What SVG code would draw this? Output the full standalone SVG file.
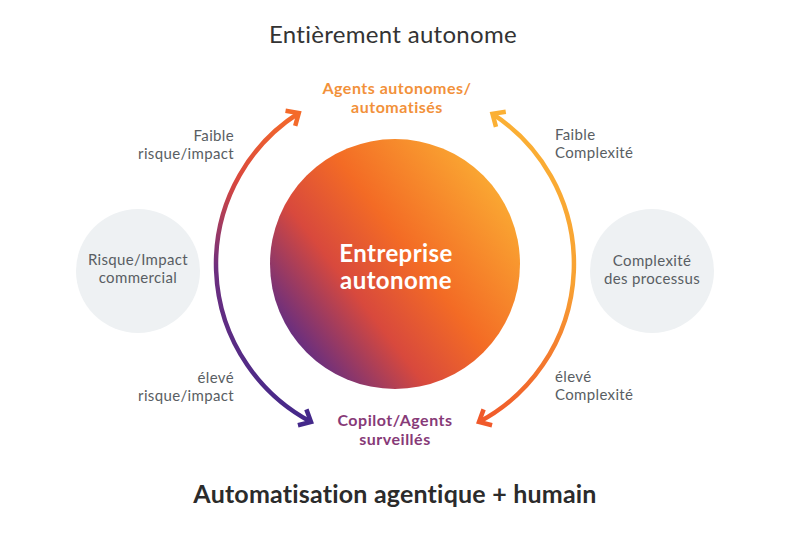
<svg xmlns="http://www.w3.org/2000/svg" width="786" height="539" viewBox="0 0 786 539">
<style>
text{font-family:Lato,"Noto Sans","Liberation Sans",sans-serif}
.side{font-size:15px;fill:#595e63;letter-spacing:0.35px}
.title{font-size:24px;fill:#333333;letter-spacing:0.3px}
.big{font-size:25px;font-weight:bold;fill:#2b2b2b;letter-spacing:0.2px}
.orange{font-size:16px;font-weight:bold;fill:#f2913a;letter-spacing:0.5px}
.purple{font-size:16px;font-weight:bold;fill:#873a78;letter-spacing:0.5px}
.center{font-size:24px;font-weight:bold;fill:#ffffff;letter-spacing:0.4px}
.grey{fill:#eef1f3}
.arc{fill:none;stroke-width:4.5}
</style>
<defs>
<linearGradient id="gBig" x1="0.08" y1="0.82" x2="0.95" y2="0.15">
<stop offset="0" stop-color="#5f2c85"/>
<stop offset="0.3" stop-color="#d8493d"/>
<stop offset="0.55" stop-color="#f36b25"/>
<stop offset="1" stop-color="#fbb034"/>
</linearGradient>
<linearGradient id="gLeft" gradientUnits="userSpaceOnUse" x1="0" y1="113" x2="0" y2="422">
<stop offset="0" stop-color="#f46a2a"/>
<stop offset="0.22" stop-color="#d9473e"/>
<stop offset="0.5" stop-color="#6e2f7f"/>
<stop offset="1" stop-color="#44288a"/>
</linearGradient>
<linearGradient id="gRight" gradientUnits="userSpaceOnUse" x1="0" y1="113" x2="0" y2="422">
<stop offset="0" stop-color="#fbb034"/>
<stop offset="0.55" stop-color="#f8a233"/>
<stop offset="1" stop-color="#f0592a"/>
</linearGradient>
<marker id="mLT" markerUnits="userSpaceOnUse" markerWidth="30" markerHeight="30" refX="0" refY="0" orient="auto" style="overflow:visible">
<path d="M -10 -9 L 0 0 L -10 9" fill="none" stroke="#f46a2a" stroke-width="4.5"/>
</marker>
<marker id="mLB" markerUnits="userSpaceOnUse" markerWidth="30" markerHeight="30" refX="0" refY="0" orient="auto-start-reverse" style="overflow:visible">
<path d="M -10 -9 L 0 0 L -10 9" fill="none" stroke="#44288a" stroke-width="4.5"/>
</marker>
<marker id="mRT" markerUnits="userSpaceOnUse" markerWidth="30" markerHeight="30" refX="0" refY="0" orient="auto-start-reverse" style="overflow:visible">
<path d="M -10 -9 L 0 0 L -10 9" fill="none" stroke="#fbb034" stroke-width="4.5"/>
</marker>
<marker id="mRB" markerUnits="userSpaceOnUse" markerWidth="30" markerHeight="30" refX="0" refY="0" orient="auto" style="overflow:visible">
<path d="M -10 -9 L 0 0 L -10 9" fill="none" stroke="#f0592a" stroke-width="4.5"/>
</marker>
</defs>
<rect width="786" height="539" fill="#ffffff"/>
<text class="title" x="393" y="43" text-anchor="middle">Entièrement autonome</text>
<text class="big" x="395" y="503" text-anchor="middle">Automatisation agentique + humain</text>
<g id="connectors">
<path id="arcLeft" class="arc" stroke="url(#gLeft)" d="M 311 422 A 179 179 0 0 1 298.8 113" marker-start="url(#mLB)" marker-end="url(#mLT)"/>
<path id="arcRight" class="arc" stroke="url(#gRight)" d="M 492.5 113.9 A 179 179 0 0 1 479 422" marker-start="url(#mRT)" marker-end="url(#mRB)"/>
</g>
<g id="center">
<circle cx="395" cy="264" r="125" fill="url(#gBig)"/>
<text class="center" x="396" y="262" text-anchor="middle">Entreprise</text>
<text class="center" x="396" y="289" text-anchor="middle">autonome</text>
</g>
<g id="top">
<text class="orange" x="397" y="94" text-anchor="middle">Agents autonomes/</text>
<text class="orange" x="397" y="113" text-anchor="middle">automatisés</text>
</g>
<g id="bottom">
<text class="purple" x="395" y="426" text-anchor="middle">Copilot/Agents</text>
<text class="purple" x="395" y="445" text-anchor="middle">surveillés</text>
</g>
<g id="risk">
<circle class="grey" cx="138" cy="271" r="62"/>
<text class="side" x="138" y="265" text-anchor="middle">Risque/Impact</text>
<text class="side" x="138" y="283" text-anchor="middle">commercial</text>
</g>
<g id="complexity">
<circle class="grey" cx="652" cy="271" r="62"/>
<text class="side" x="652" y="266" text-anchor="middle">Complexité</text>
<text class="side" x="652" y="284" text-anchor="middle">des processus</text>
</g>
<g id="labels">
<text class="side" x="234" y="141" text-anchor="end">Faible</text>
<text class="side" x="234" y="159" text-anchor="end">risque/impact</text>
<text class="side" x="234" y="383" text-anchor="end">élevé</text>
<text class="side" x="234" y="401" text-anchor="end">risque/impact</text>
<text class="side" x="555" y="140" text-anchor="start">Faible</text>
<text class="side" x="555" y="158" text-anchor="start">Complexité</text>
<text class="side" x="555" y="382" text-anchor="start">élevé</text>
<text class="side" x="555" y="400" text-anchor="start">Complexité</text>
</g>
</svg>
